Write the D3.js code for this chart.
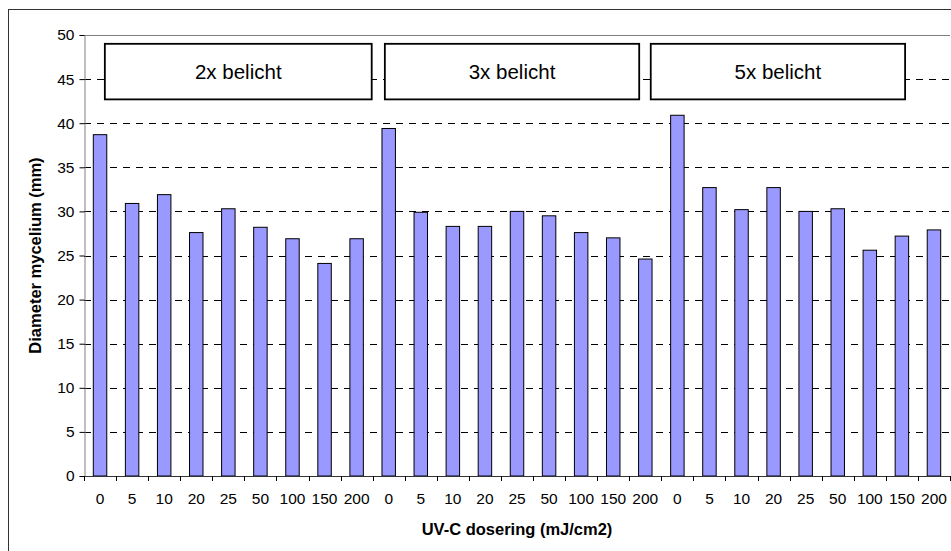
<!DOCTYPE html>
<html>
<head>
<meta charset="utf-8">
<script src="https://cdn.jsdelivr.net/npm/d3@7"></script>
<style>
  body { margin: 0; background: #fff; }
  text { font-family: "Liberation Sans", Arial, sans-serif; }
</style>
</head>
<body>
<script>
// dose per bar, three exposure groups of 9
var doses = ["0", "5", "10", "20", "25", "50", "100", "150", "200"];
var groups = ["2x belicht", "3x belicht", "5x belicht"];
var values2x = [38.7, 30.9, 31.9, 27.6, 30.3, 28.2, 26.9, 24.1, 26.9];
var values3x = [39.4, 29.9, 28.3, 28.3, 30.0, 29.5, 27.6, 27.0, 24.6];
var values5x = [40.9, 32.7, 30.2, 32.7, 30.0, 30.3, 25.6, 27.2, 27.9];
var yTicks = [0, 5, 10, 15, 20, 25, 30, 35, 40, 45, 50];
// label boxes, in category-boundary units and y units
var boxSpans = [[0.65, 8.97], [9.38, 17.31], [17.67, 25.6]];
var boxY = [42.7, 49.0];

var W = 951, H = 551;
var pL = 84, pR = 950, pT = 35, pB = 476;

var bars = [];
[values2x, values3x, values5x].forEach(function (vals, gi) {
  vals.forEach(function (v, i) {
    bars.push({ i: gi * doses.length + i, dose: doses[i], value: v });
  });
});

var svg = d3.select("body").append("svg")
  .attr("width", W).attr("height", H);

// chart border
svg.append("rect")
  .attr("x", 8.5).attr("y", 9.5)
  .attr("width", 980).attr("height", 580)
  .attr("fill", "none").attr("stroke", "#333");

var x = d3.scaleBand()
  .domain(bars.map(function (d) { return d.i; }))
  .range([pL, pR])
  .paddingInner(0.58).paddingOuter(0.29);
var xb = d3.scaleLinear().domain([0, bars.length]).range([pL, pR]);
var y = d3.scaleLinear().domain([0, 50]).range([pB, pT]);

// gridlines
svg.append("g").selectAll("line")
  .data(yTicks.filter(function (t) { return t > 0 && t < 50; }))
  .join("line")
  .attr("x1", pL).attr("x2", pR)
  .attr("y1", function (d) { return Math.round(y(d)) + 0.5; })
  .attr("y2", function (d) { return Math.round(y(d)) + 0.5; })
  .attr("stroke", "#000").attr("stroke-dasharray", "7,6");

// plot area top
svg.append("line")
  .attr("x1", pL).attr("x2", pR)
  .attr("y1", pT + 0.5).attr("y2", pT + 0.5)
  .attr("stroke", "#808080");

// label boxes
var bx = svg.append("g").selectAll("g").data(groups).join("g");
bx.append("rect")
  .attr("x", function (d, i) { return xb(boxSpans[i][0]); })
  .attr("width", function (d, i) { return xb(boxSpans[i][1]) - xb(boxSpans[i][0]); })
  .attr("y", y(boxY[1]))
  .attr("height", y(boxY[0]) - y(boxY[1]))
  .attr("fill", "#fff").attr("stroke", "#000").attr("stroke-width", 1.8);
bx.append("text")
  .attr("x", function (d, i) { return (xb(boxSpans[i][0]) + xb(boxSpans[i][1])) / 2; })
  .attr("y", (y(boxY[0]) + y(boxY[1])) / 2 + 7)
  .attr("text-anchor", "middle")
  .style("font-size", "20.5px")
  .text(function (d) { return d; });

// bars
svg.append("g").selectAll("rect").data(bars).join("rect")
  .attr("x", function (d) { return x(d.i); })
  .attr("width", x.bandwidth())
  .attr("y", function (d) { return y(d.value); })
  .attr("height", function (d) { return y(0) - y(d.value); })
  .attr("fill", "#9999ff").attr("stroke", "#000").attr("stroke-width", 1);

// y axis
var ya = svg.append("g").attr("transform", "translate(" + (pL + 0.5) + ",0)")
  .call(d3.axisLeft(y).tickValues(yTicks).tickSize(5).tickPadding(5));
ya.select(".domain").attr("stroke", "#808080");
ya.selectAll("text").style("font-size", "15.5px").attr("fill", "#000").attr("font-family", null);

// x axis
svg.append("line")
  .attr("x1", pL).attr("x2", pR)
  .attr("y1", pB + 0.5).attr("y2", pB + 0.5)
  .attr("stroke", "#333");
svg.append("g").selectAll("line").data(d3.range(bars.length + 1)).join("line")
  .attr("x1", function (d) { return Math.round(xb(d)) + 0.5; })
  .attr("x2", function (d) { return Math.round(xb(d)) + 0.5; })
  .attr("y1", pB).attr("y2", pB + 5)
  .attr("stroke", "#000");
var xa = svg.append("g").attr("transform", "translate(0," + pB + ")")
  .call(d3.axisBottom(x).tickSize(0).tickPadding(17)
    .tickFormat(function (d) { return bars[d].dose; }));
xa.select(".domain").remove();
xa.selectAll("text").style("font-size", "15.5px").attr("fill", "#000").attr("font-family", null);

// axis titles
svg.append("text")
  .attr("x", (pL + pR) / 2).attr("y", 535)
  .attr("text-anchor", "middle")
  .style("font-size", "16.5px").style("font-weight", "bold")
  .text("UV-C dosering (mJ/cm2)");
svg.append("text")
  .attr("transform", "translate(41," + ((pT + pB) / 2) + ") rotate(-90)")
  .attr("text-anchor", "middle")
  .style("font-size", "16.5px").style("font-weight", "bold")
  .text("Diameter mycelium (mm)");
</script>
</body>
</html>
